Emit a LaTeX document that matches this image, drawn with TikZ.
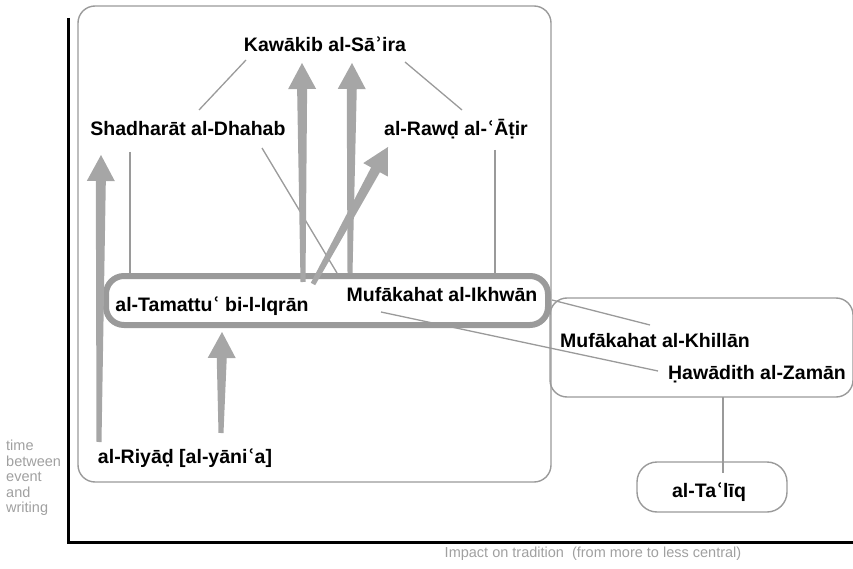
\documentclass[tikz,border=0pt]{standalone}
\usepackage{fontspec}
\setmainfont{Liberation Sans}
\newfontfamily\dvsfont{DejaVu Sans}
\usetikzlibrary{calc}
\definecolor{linegray}{HTML}{9A9A9A}
\definecolor{arrowgray}{HTML}{A6A6A6}
\definecolor{labelgray}{HTML}{A0A0A0}
\newcommand\myhamza{{\dvsfont ʾ}}
\newcommand\myayn{{\dvsfont ʿ}}
\newcommand\fatarrow[2]{%
  \coordinate (nk) at ($(#2)!26pt!(#1)$);
  \fill[arrowgray] ($(#1)!2.5pt!90:(#2)$) -- ($(nk)!5pt!90:(#2)$) -- ($(nk)!14pt!90:(#2)$) -- (#2)
    -- ($(nk)!14pt!-90:(#2)$) -- ($(nk)!5pt!-90:(#2)$) -- ($(#1)!2.5pt!-90:(#2)$) -- cycle;}
\begin{document}
\begin{tikzpicture}[x=1pt,y=-1pt,
  title/.style={font=\bfseries\fontsize{19.5}{22}\selectfont, inner sep=0pt, anchor=base},
  conn/.style={draw=linegray, line width=1.3pt},
  boxline/.style={draw=linegray, line width=1.4pt},
  axisline/.style={draw=black, line width=3pt},
  axlabel/.style={font=\fontsize{14.5}{15.5}\selectfont, text=labelgray, inner sep=0pt}]
\useasboundingbox (0,0) rectangle (853,569);
% axes
\coordinate (ytop) at (68,18);
\coordinate (orig) at (68,542);
\coordinate (xend) at (853,542);
\draw[axisline] (ytop) -- (orig) -- (xend);
\node[axlabel, anchor=north west, align=left] (ylab) at (6,440) {time\\between\\event\\and\\writing};
\node[axlabel, anchor=base] (xlab) at (593,557) {Impact on tradition\ \ (from more to less central)};
% boxes
\draw[boxline, rounded corners=17pt] (78,6) rectangle (551,482);
\draw[boxline, rounded corners=17pt] (550,298) rectangle (853,397);
\draw[boxline, rounded corners=20pt] (637,462) rectangle (787,512);
% titles
\node[title] (kaw) at (325,52) {Kawākib al-Sā\myhamza ira};
\node[title] (sha) at (188,136) {Shadharāt al-Dhahab};
\node[title] (raw) at (456,136) {al-Rawḍ al-\myayn Āṭir};
\node[title] (tam) at (212,311) {al-Tamattu\myayn{} bi-l-Iqrān};
\node[title] (ikh) at (442,301) {Mufākahat al-Ikhwān};
\node[title] (khi) at (655,347) {Mufākahat al-Khillān};
\node[title] (haw) at (757,379) {Ḥawādith al-Zamān};
\node[title] (riy) at (185,463) {al-Riyāḍ [al-yāni\myayn a]};
\node[title] (tal) at (709,497) {al-Ta\myayn līq};
% connector ends
\coordinate (k1) at (246,60); \coordinate (s1) at (199,110);
\coordinate (k2) at (405,62); \coordinate (r1) at (462,110);
\coordinate (s2) at (130,152); \coordinate (g1) at (130,273);
\coordinate (s3) at (262,148); \coordinate (i1) at (337,273);
\coordinate (r2) at (495,150); \coordinate (g2) at (495,273);
\coordinate (i2) at (552,300); \coordinate (kh1) at (650,325);
\coordinate (i3) at (381,312); \coordinate (h1) at (658,371);
\coordinate (h2) at (723,397); \coordinate (t1) at (723,473);
\draw[conn] (k1) -- (s1);
\draw[conn] (k2) -- (r1);
\draw[conn] (s2) -- (g1);
\draw[conn] (s3) -- (i1);
\draw[conn] (r2) -- (g2);
\draw[conn] (i2) -- (kh1);
\draw[conn] (i3) -- (h1);
\draw[conn] (h2) -- (t1);
% group
\draw[draw=linegray, line width=6pt, rounded corners=18pt] (106,276) rectangle (548,325);
% fat arrows
\coordinate (a1t) at (99,442); \coordinate (a1h) at (101,155);
\coordinate (a2t) at (221,433); \coordinate (a2h) at (222,332);
\coordinate (a3t) at (303,282); \coordinate (a3h) at (302,63);
\coordinate (a4t) at (350,273); \coordinate (a4h) at (352,63);
\coordinate (a5t) at (313,284); \coordinate (a5h) at (388,147);
\fatarrow{a1t}{a1h}
\fatarrow{a2t}{a2h}
\fatarrow{a3t}{a3h}
\fatarrow{a4t}{a4h}
\fatarrow{a5t}{a5h}
\end{tikzpicture}
\end{document}
